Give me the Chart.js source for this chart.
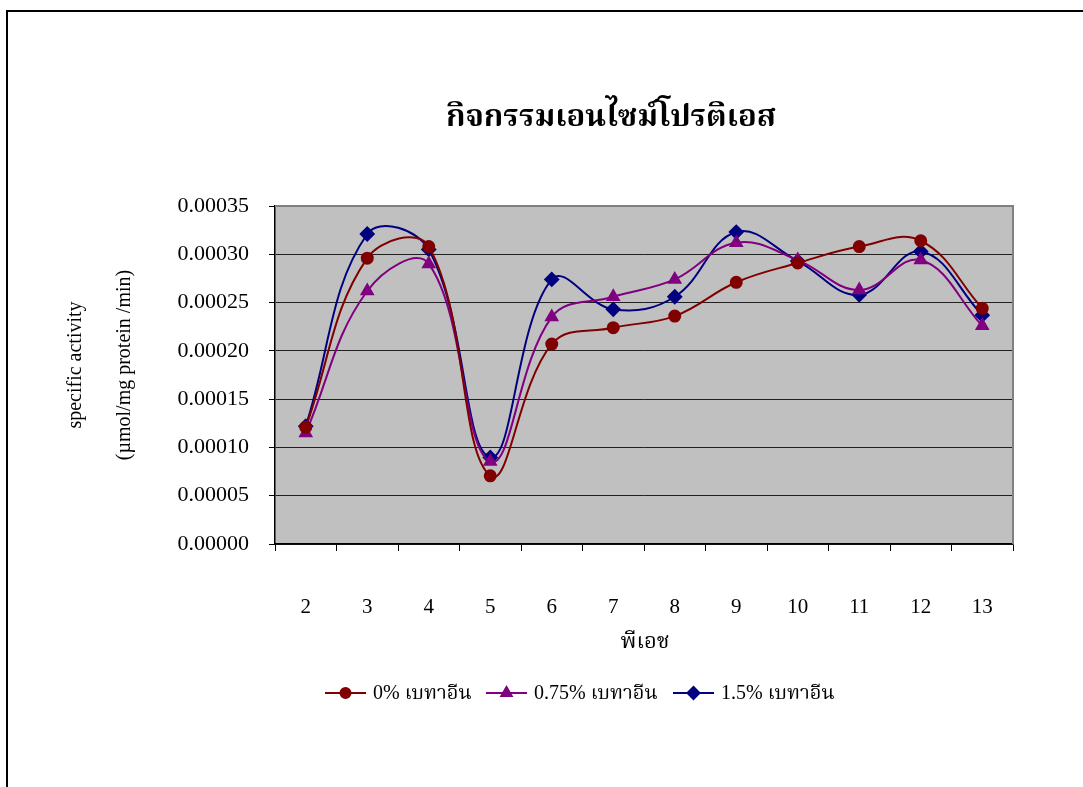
<!DOCTYPE html>
<html>
<head>
<meta charset="utf-8">
<title>กิจกรรมเอนไซม์โปรติเอส</title>
<script src="https://cdn.jsdelivr.net/npm/chart.js@4/dist/chart.umd.min.js"></script>
<style>
  html, body { margin: 0; padding: 0; background: #ffffff; }
  canvas { display: block; }
</style>
</head>
<body>
<canvas id="chart" width="1083" height="787"></canvas>
<script>
// pH values on the x axis
const phLabels = ['2', '3', '4', '5', '6', '7', '8', '9', '10', '11', '12', '13'];

// Specific activity (µmol/mg protein /min) for each betaine concentration
const betaine0 = [0.000121, 0.000296, 0.000308, 0.0000706, 0.000207, 0.000224, 0.000236, 0.000271, 0.000291, 0.000308, 0.000314, 0.000244];
const betaine075 = [0.000115, 0.000262, 0.000290, 0.0000855, 0.000235, 0.000256, 0.000274, 0.000312, 0.000294, 0.000263, 0.000294, 0.000226];
const betaine15 = [0.000122, 0.000321, 0.000305, 0.0000897, 0.000274, 0.000243, 0.000256, 0.000323, 0.000293, 0.000258, 0.000303, 0.000237];

const seriesNames = ['0% เบทาอีน', '0.75% เบทาอีน', '1.5% เบทาอีน'];

// Y axis range and tick step
const yMin = 0;
const yMax = 0.00035;
const yStep = 0.00005;

const chartTitle = 'กิจกรรมเอนไซม์โปรติเอส';
const xTitle = 'พีเอช';
const yTitleLines = ['specific activity', '(µmol/mg protein /min)'];

const SERIF = '"Liberation Serif", "Times New Roman", "Noto Serif Thai", "Noto Sans Thai", serif';

const styles = [
  { color: '#800000', point: 'circle', radius: 5.5 },
  { color: '#800080', point: 'triangle', radius: 6.5 },
  { color: '#000080', point: 'rectRot', radius: 6.5 }
];

function makeDataset(label, data, s) {
  return {
    label: label,
    data: data,
    borderColor: s.color,
    backgroundColor: s.color,
    pointBackgroundColor: s.color,
    pointBorderColor: s.color,
    pointStyle: s.point,
    pointRadius: s.radius,
    pointHoverRadius: s.radius,
    borderWidth: 2,
    tension: 0.4,
    fill: false
  };
}

// Page frame, plot background, titles and legend
const decorations = {
  id: 'decorations',
  beforeDraw(chart) {
    const ctx = chart.ctx;
    const a = chart.chartArea;
    ctx.save();
    ctx.fillStyle = '#ffffff';
    ctx.fillRect(0, 0, chart.width, chart.height);
    // frame
    ctx.strokeStyle = '#000000';
    ctx.lineWidth = 2;
    ctx.beginPath();
    ctx.moveTo(7, chart.height);
    ctx.lineTo(7, 11);
    ctx.lineTo(chart.width, 11);
    ctx.stroke();
    // plot area
    ctx.fillStyle = '#c0c0c0';
    ctx.fillRect(a.left, a.top, a.right - a.left, a.bottom - a.top);
    ctx.restore();
  },
  beforeDatasetsDraw(chart) {
    const ctx = chart.ctx;
    const a = chart.chartArea;
    ctx.save();
    ctx.strokeStyle = '#808080';
    ctx.lineWidth = 2;
    ctx.beginPath();
    ctx.moveTo(a.left, a.top);
    ctx.lineTo(a.right, a.top);
    ctx.lineTo(a.right, a.bottom);
    ctx.stroke();
    ctx.restore();
  },
  afterDraw(chart) {
    const ctx = chart.ctx;
    ctx.save();
    ctx.fillStyle = '#000000';
    ctx.textAlign = 'center';
    ctx.textBaseline = 'middle';

    // main title
    ctx.font = 'bold 31px ' + SERIF;
    ctx.fillText(chartTitle, 611, 118);

    // x axis title
    ctx.font = '22px ' + SERIF;
    ctx.fillText(xTitle, 645, 642);

    // y axis title, two rotated lines
    ctx.font = '20px ' + SERIF;
    const yCenter = 365;
    [76, 125].forEach((x, i) => {
      ctx.save();
      ctx.translate(x, yCenter);
      ctx.rotate(-Math.PI / 2);
      ctx.fillText(yTitleLines[i], 0, 0);
      ctx.restore();
    });

    // legend
    const legendY = 693;
    const lineStarts = [325, 486, 673];
    ctx.font = '20px ' + SERIF;
    ctx.textAlign = 'left';
    chart.data.datasets.forEach((ds, i) => {
      const x0 = lineStarts[i];
      ctx.strokeStyle = ds.borderColor;
      ctx.lineWidth = 2;
      ctx.beginPath();
      ctx.moveTo(x0, legendY);
      ctx.lineTo(x0 + 41, legendY);
      ctx.stroke();
      ctx.fillStyle = ds.backgroundColor;
      Chart.helpers.drawPoint(ctx, {
        pointStyle: ds.pointStyle,
        radius: ds.pointRadius - 0.5,
        borderWidth: 1,
        rotation: 0
      }, x0 + 20.5, legendY);
      ctx.fillStyle = '#000000';
      ctx.fillText(ds.label, x0 + 48, legendY + 1);
    });
    ctx.restore();
  }
};

new Chart(document.getElementById('chart'), {
  type: 'line',
  data: {
    labels: phLabels,
    datasets: [
      makeDataset(seriesNames[0], betaine0, styles[0]),
      makeDataset(seriesNames[1], betaine075, styles[1]),
      makeDataset(seriesNames[2], betaine15, styles[2])
    ]
  },
  options: {
    responsive: false,
    animation: false,
    devicePixelRatio: 1,
    layout: { padding: { left: 0, top: 206, right: 70, bottom: 143 } },
    plugins: {
      legend: { display: false },
      title: { display: false },
      tooltip: { enabled: false }
    },
    scales: {
      x: {
        type: 'category',
        offset: true,
        afterFit(scale) { scale.height = 100; },
        grid: {
          offset: true,
          drawOnChartArea: false,
          drawTicks: true,
          tickLength: 7,
          color: '#000000',
          lineWidth: 1
        },
        border: { display: true, color: '#000000', width: 1.5 },
        ticks: {
          color: '#000000',
          padding: 44,
          maxRotation: 0,
          autoSkip: false,
          font: { family: SERIF, size: 21 }
        }
      },
      y: {
        min: yMin,
        max: yMax,
        afterFit(scale) { scale.width = 275; },
        grid: {
          color(ctx) {
            return ctx.tick && Math.abs(ctx.tick.value - yMax) < 1e-9 ? 'rgba(0,0,0,0)' : '#202020';
          },
          tickColor: '#000000',
          lineWidth: 1,
          tickLength: 6
        },
        border: { display: true, color: '#000000', width: 1.5 },
        ticks: {
          stepSize: yStep,
          color: '#000000',
          padding: 20,
          font: { family: SERIF, size: 22 },
          callback: (v) => Number(v).toFixed(5)
        }
      }
    }
  },
  plugins: [decorations]
});
</script>
</body>
</html>
